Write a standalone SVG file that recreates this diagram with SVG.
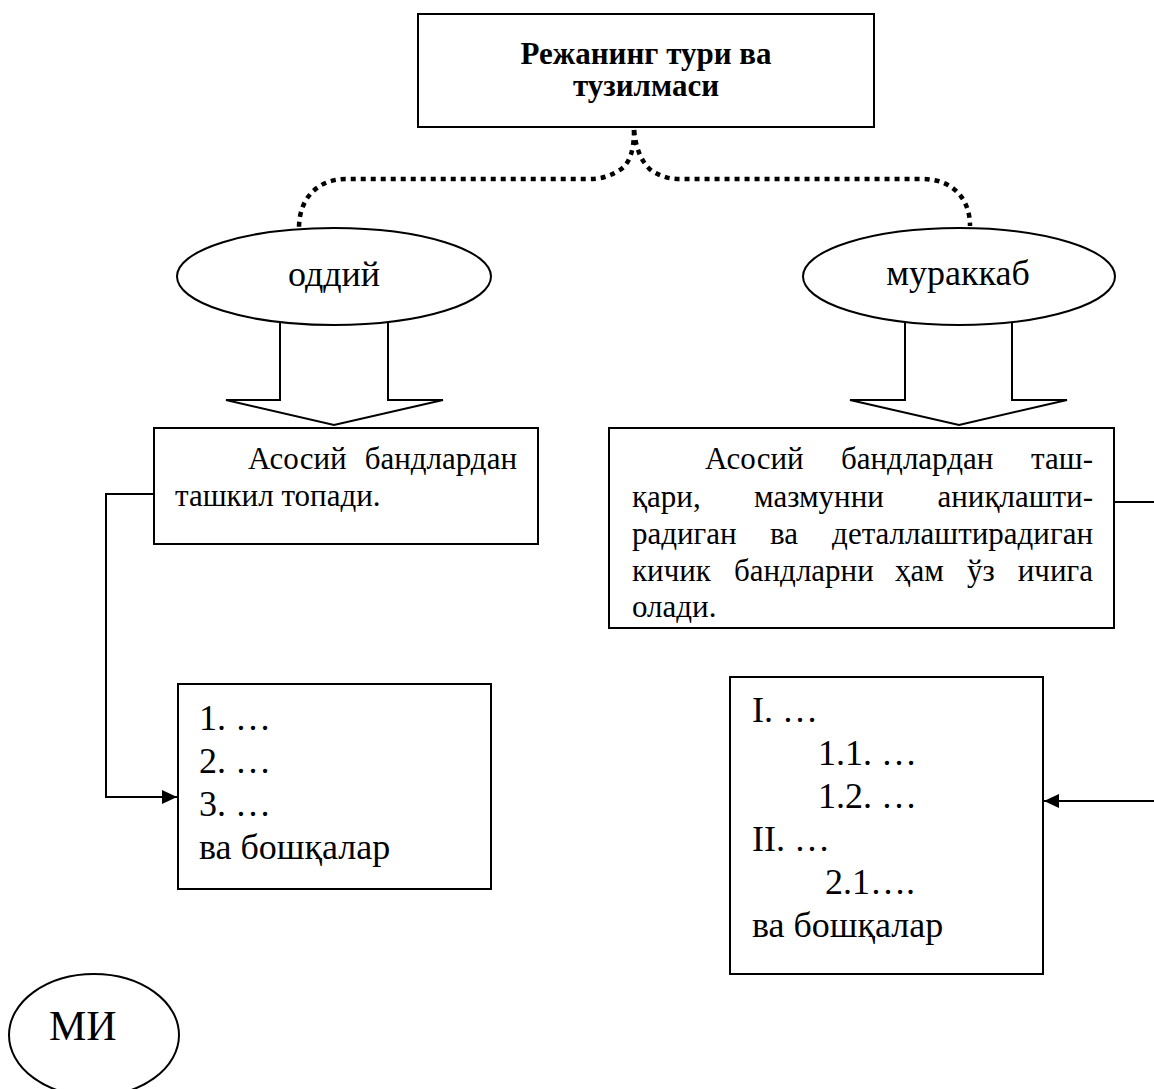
<svg xmlns="http://www.w3.org/2000/svg" width="1154" height="1089" viewBox="0 0 1154 1089">
<style>
.box{fill:#fff;stroke:#000;stroke-width:2}
.ell{fill:#fff;stroke:#000;stroke-width:2}
.barrow{fill:#fff;stroke:#000;stroke-width:2;stroke-linejoin:miter}
.t{font-family:"Liberation Serif","Times New Roman",serif;fill:#000}
.body{font-size:31px}
.big{font-size:36px}
.title{font-size:31px;font-weight:bold}
.dot{fill:none;stroke:#000;stroke-width:4.5;stroke-dasharray:5 5}
.conn{fill:none;stroke:#000;stroke-width:2}
</style>
<defs>
<marker id="ah" markerUnits="userSpaceOnUse" markerWidth="16" markerHeight="14" refX="15" refY="7" orient="auto">
<path d="M0,0 L15,7 L0,14 z" fill="#000"/>
</marker>
</defs>
<rect width="1154" height="1089" fill="#fff"/>

<g id="connectors">
<path class="dot" d="M634,130 C634,150 630,165 618,171 C608,177 600,179 588,179 H346 C318,179 299,198 299,228"/>
<path class="dot" d="M634,130 C636,150 642,163 652,171 C662,177 670,179 680,179 H922 C952,179 970,198 970,226"/>
<path class="conn" d="M154,494 H106 V797 H177" marker-end="url(#ah)"/>
<path class="conn" d="M1114,502 H1170 V801 H1044" marker-end="url(#ah)"/>
</g>

<g id="title">
<rect class="box" x="418" y="14" width="456" height="113"/>
<text class="t title" x="646" y="64" text-anchor="middle">Режанинг тури ва</text>
<text class="t title" x="646" y="96" text-anchor="middle">тузилмаси</text>
</g>

<g id="arrow-simple">
<path class="barrow" d="M280,322 V400 H226 L334,425 L443,400 H388 V322"/>
</g>
<g id="arrow-complex">
<path class="barrow" d="M905,322 V400 H850 L959,425 L1067,400 H1012 V322"/>
</g>

<g id="simple">
<ellipse class="ell" cx="334" cy="276.5" rx="157" ry="48.5"/>
<text class="t big" x="334" y="286" text-anchor="middle">оддий</text>
</g>

<g id="complex">
<ellipse class="ell" cx="959" cy="276.5" rx="156" ry="48.5"/>
<text class="t big" x="958" y="285" text-anchor="middle">мураккаб</text>
</g>

<g id="simple-desc">
<rect class="box" x="154" y="428" width="384" height="116"/>
<text class="t body" y="469"><tspan x="248">Асосий</tspan><tspan x="517" text-anchor="end">бандлардан</tspan></text>
<text class="t body" x="175" y="506">ташкил топади.</text>
</g>

<g id="complex-desc">
<rect class="box" x="609" y="428" width="505" height="200"/>
<text class="t body" y="469"><tspan x="705">Асосий</tspan><tspan x="841">бандлардан</tspan><tspan x="1093" text-anchor="end">таш-</tspan></text>
<text class="t body" y="507"><tspan x="632">қари,</tspan><tspan x="754">мазмунни</tspan><tspan x="1093" text-anchor="end">аниқлашти-</tspan></text>
<text class="t body" y="544"><tspan x="632">радиган</tspan><tspan x="770">ва</tspan><tspan x="1093" text-anchor="end">деталлаштирадиган</tspan></text>
<text class="t body" y="581"><tspan x="632">кичик</tspan><tspan x="734">бандларни</tspan><tspan x="895">ҳам</tspan><tspan x="967">ўз</tspan><tspan x="1093" text-anchor="end">ичига</tspan></text>
<text class="t body" x="632" y="617">олади.</text>
</g>

<g id="simple-list">
<rect class="box" x="178" y="684" width="313" height="205"/>
<text class="t big" x="199" y="730">1. …</text>
<text class="t big" x="199" y="773">2. …</text>
<text class="t big" x="199" y="816">3. …</text>
<text class="t big" x="199" y="859">ва бошқалар</text>
</g>

<g id="complex-list">
<rect class="box" x="730" y="677" width="313" height="297"/>
<text class="t big" x="752" y="722">I. …</text>
<text class="t big" x="818" y="765">1.1. …</text>
<text class="t big" x="818" y="808">1.2. …</text>
<text class="t big" x="752" y="851">II. …</text>
<text class="t big" x="825" y="894">2.1….</text>
<text class="t big" x="752" y="937">ва бошқалар</text>
</g>

<g id="mi">
<ellipse class="ell" cx="94" cy="1035" rx="85" ry="61"/>
<text class="t" style="font-size:42px" x="49" y="1040">МИ</text>
</g>
</svg>
